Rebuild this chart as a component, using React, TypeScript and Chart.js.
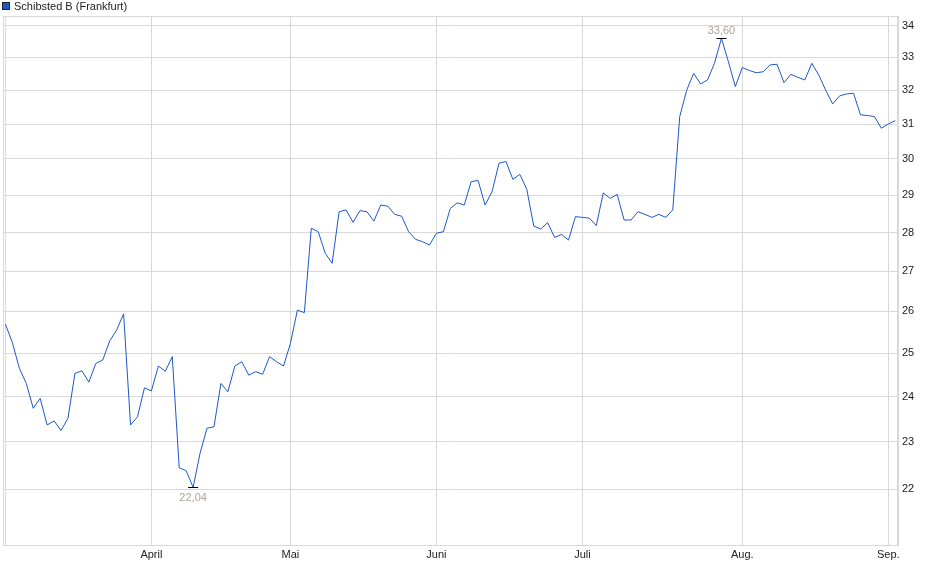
import { useEffect, useRef } from "react";
import { Chart, registerables } from "chart.js";

Chart.register(...registerables);

// daily closing prices, one per trading day (index 0 = first day shown)
const prices = [
  25.69, 25.25, 24.65, 24.3, 23.74, 23.96, 23.37, 23.46, 23.25, 23.52,
  24.53, 24.59, 24.33, 24.76, 24.84, 25.29, 25.55, 25.94, 23.37, 23.55,
  24.2, 24.13, 24.7, 24.58, 24.92, 22.45, 22.39, 22.04, 22.76, 23.3,
  23.33, 24.3, 24.11, 24.7, 24.8, 24.49, 24.57, 24.51, 24.92, 24.8,
  24.7, 25.23, 26.03, 25.97, 28.11, 28.02, 27.46, 27.2, 28.55, 28.6,
  28.27, 28.58, 28.55, 28.3, 28.73, 28.7, 28.48, 28.43, 28.02, 27.82,
  27.76, 27.67, 27.98, 28.02, 28.64, 28.79, 28.73, 29.37, 29.4, 28.73,
  29.09, 29.88, 29.93, 29.43, 29.57, 29.16, 28.17, 28.09, 28.26, 27.87,
  27.95, 27.8, 28.42, 28.4, 28.38, 28.18, 29.06, 28.91, 29.02, 28.33,
  28.33, 28.55, 28.48, 28.4, 28.48, 28.4, 28.6, 31.22, 32.0, 32.51,
  32.19, 32.31, 32.82, 33.6, 32.87, 32.11, 32.69, 32.6, 32.53, 32.56,
  32.77, 32.79, 32.23, 32.48, 32.39, 32.31, 32.82, 32.46, 32.0, 31.59,
  31.83, 31.89, 31.91, 31.27, 31.25, 31.22, 30.88, 31.0, 31.1,
];

// first trading day of each month (index into prices) and its label
const monthStartIdx = [0, 21, 41, 62, 83, 106, 127];
const monthLabels = ["", "April", "Mai", "Juni", "Juli", "Aug.", "Sep."];

const yTicks = [22, 23, 24, 25, 26, 27, 28, 29, 30, 31, 32, 33, 34];

const seriesName = "Schibsted B (Frankfurt)";

const FONT = "'Liberation Sans', Arial, sans-serif";
const LINE = "#1c58c6";
const GRID = "#d9d9d9";

const fmt = (v: number) => v.toFixed(2).replace(".", ",");

const extrasPlugin = {
  id: "extras",
  afterDraw(chart: any) {
    const { ctx, chartArea: a, scales } = chart;
    ctx.save();
    // frame
    ctx.strokeStyle = GRID;
    ctx.lineWidth = 1;
    ctx.strokeRect(a.left + 0.5, a.top + 0.5, a.right - a.left - 1, a.bottom - a.top);

    // legend
    ctx.fillStyle = LINE;
    ctx.fillRect(2, 2, 8, 8);
    ctx.strokeStyle = "#222";
    ctx.strokeRect(2.5, 2.5, 7, 7);
    ctx.fillStyle = "#222";
    ctx.font = `11px ${FONT}`;
    ctx.textBaseline = "middle";
    ctx.textAlign = "left";
    ctx.fillText(seriesName, 14, 6.5);

    // min / max markers
    let hi = 0;
    let lo = 0;
    prices.forEach((v, i) => {
      if (v > prices[hi]) hi = i;
      if (v < prices[lo]) lo = i;
    });
    const mark = (i: number, above: boolean) => {
      const x = scales.x.getPixelForValue(i);
      const y = Math.round(scales.y.getPixelForValue(prices[i])) + 0.5;
      ctx.strokeStyle = "#000";
      ctx.beginPath();
      ctx.moveTo(x - 5, y);
      ctx.lineTo(x + 5, y);
      ctx.stroke();
      ctx.fillStyle = "#a9a39c";
      ctx.font = `11px ${FONT}`;
      ctx.textAlign = "center";
      ctx.textBaseline = "middle";
      ctx.fillText(fmt(prices[i]), x, above ? y - 8 : y + 10);
    };
    mark(hi, true);
    mark(lo, false);
    ctx.restore();
  },
};

export default function App() {
  const canvasEl = useRef<HTMLCanvasElement>(null);

  useEffect(() => {
    const chart = new Chart(canvasEl.current!, {
      type: "line",
      data: {
        datasets: [
          {
            label: seriesName,
            data: prices.map((v, i) => ({ x: i, y: v })),
            borderColor: LINE,
            borderWidth: 1,
            pointRadius: 0,
            tension: 0,
            fill: false,
          },
        ],
      },
      options: {
        animation: false,
        responsive: true,
        maintainAspectRatio: false,
        layout: { padding: { left: 3, top: 16, right: 0, bottom: 0 } },
        plugins: { legend: { display: false }, tooltip: { enabled: false } },
        scales: {
          x: {
            type: "linear",
            min: -0.35,
            max: 128.4,
            bounds: "data",
            grid: { color: GRID, drawTicks: false },
            border: { color: GRID },
            afterBuildTicks: (s: any) => {
              s.ticks = monthStartIdx.map((v) => ({ value: v }));
            },
            afterFit: (s: any) => {
              s.height = 34;
            },
            ticks: {
              autoSkip: false,
              maxRotation: 0,
              padding: 3,
              color: "#222",
              font: { family: FONT, size: 11 },
              callback: (v: any) => monthLabels[monthStartIdx.indexOf(Number(v))] ?? "",
            },
          },
          y: {
            type: "logarithmic",
            position: "right",
            min: 20.88,
            max: 34.31,
            bounds: "data",
            grid: { color: GRID, drawTicks: false },
            border: { color: GRID },
            afterBuildTicks: (s: any) => {
              s.ticks = yTicks.map((v) => ({ value: v }));
            },
            afterFit: (s: any) => {
              s.width = 42;
            },
            ticks: {
              padding: 4,
              color: "#222",
              font: { family: FONT, size: 11 },
              callback: (v: any) => String(v),
            },
          },
        },
      },
      plugins: [extrasPlugin],
    });
    return () => {
      chart.destroy();
    };
  }, []);

  return (
    <div style={{ position: "absolute", left: 0, top: 0, width: 940, height: 579, background: "#fff" }}>
      <canvas ref={canvasEl} />
    </div>
  );
}
